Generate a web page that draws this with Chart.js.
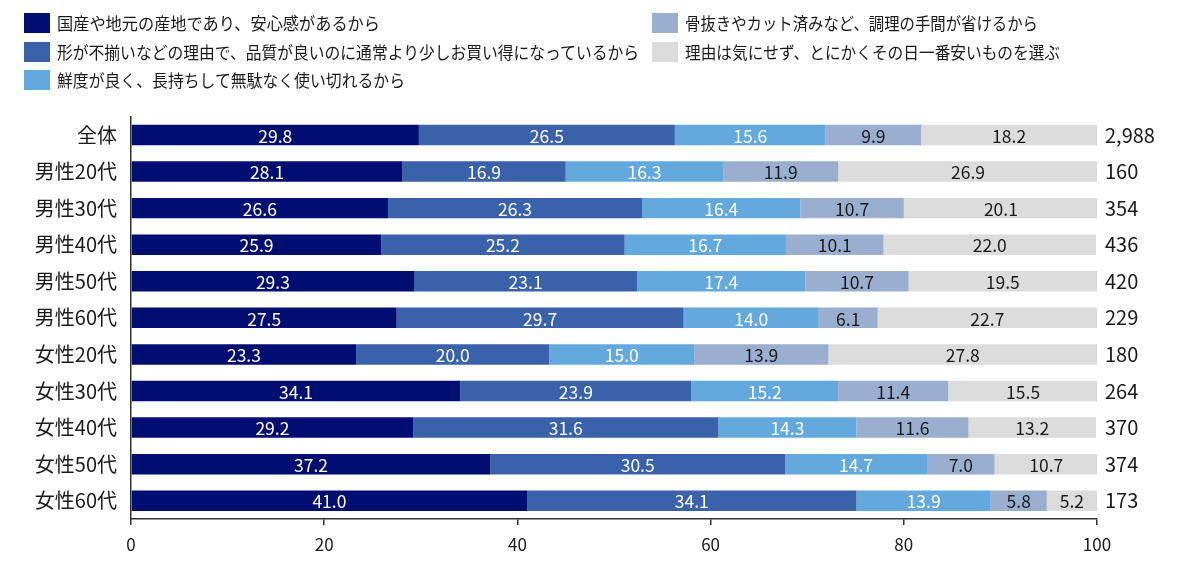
<!DOCTYPE html>
<html lang="ja">
<head>
<meta charset="utf-8">
<script src="https://cdn.jsdelivr.net/npm/chart.js@4/dist/chart.umd.min.js"></script>
<style>
  html, body { margin: 0; padding: 0; background: #fff; }
  body { width: 1200px; height: 565px; position: relative; overflow: hidden;
         font-family: "Noto Sans CJK JP", "Noto Sans", sans-serif; color: #1a1a1a; }
  #wrap { position: absolute; left: 0; top: 0; width: 1200px; height: 565px; }
  .lg { position: absolute; height: 20px; display: flex; align-items: center; white-space: nowrap; }
  .lg .box { width: 26px; height: 20px; flex: none; }
  .lg .txt { display: inline-block; font-size: 17px; line-height: 20px; margin-left: 7px; transform-origin: left center; }
</style>
</head>
<body>
<div id="wrap"><canvas id="chart" width="1200" height="565"></canvas></div>
<div id="legend"></div>
<script>
// --- categories / series ---
const categories = ["全体", "男性20代", "男性30代", "男性40代", "男性50代", "男性60代",
  "女性20代", "女性30代", "女性40代", "女性50代", "女性60代"];
const sampleSizes = ["2,988", "160", "354", "436", "420", "229", "180", "264", "370", "374", "173"];

const seriesNames = [
  "国産や地元の産地であり、安心感があるから",
  "形が不揃いなどの理由で、品質が良いのに通常より少しお買い得になっているから",
  "鮮度が良く、長持ちして無駄なく使い切れるから",
  "骨抜きやカット済みなど、調理の手間が省けるから",
  "理由は気にせず、とにかくその日一番安いものを選ぶ"
];
const localOrigin = [29.8, 28.1, 26.6, 25.9, 29.3, 27.5, 23.3, 34.1, 29.2, 37.2, 41.0];
const irregularShape = [26.5, 16.9, 26.3, 25.2, 23.1, 29.7, 20.0, 23.9, 31.6, 30.5, 34.1];
const freshness = [15.6, 16.3, 16.4, 16.7, 17.4, 14.0, 15.0, 15.2, 14.3, 14.7, 13.9];
const preCut = [9.9, 11.9, 10.7, 10.1, 10.7, 6.1, 13.9, 11.4, 11.6, 7.0, 5.8];
const cheapest = [18.2, 26.9, 20.1, 22.0, 19.5, 22.7, 27.8, 15.5, 13.2, 10.7, 5.2];
const xTicks = [0, 20, 40, 60, 80, 100];

const colors = ["#000e72", "#3a62aa", "#63a9dd", "#9aaecf", "#dcdcdc"];
const labelColors = ["#ffffff", "#ffffff", "#ffffff", "#1a1a1a", "#1a1a1a"];
const font = '"Noto Sans CJK JP", "Noto Sans", sans-serif';

// --- legend (HTML, two columns) ---
const legendPos = [
  { x: 24, y: 13, w: 323 },
  { x: 24, y: 42, w: 582 },
  { x: 24, y: 70, w: 348 },
  { x: 652, y: 13, w: 353 },
  { x: 652, y: 42, w: 375 }
];
const legend = document.getElementById("legend");
seriesNames.forEach((name, i) => {
  const p = legendPos[i];
  const item = document.createElement("div");
  item.className = "lg";
  item.style.left = p.x + "px";
  item.style.top = p.y + "px";
  const box = document.createElement("span");
  box.className = "box";
  box.style.background = colors[i];
  const txt = document.createElement("span");
  txt.className = "txt";
  txt.textContent = name;
  item.appendChild(box);
  item.appendChild(txt);
  legend.appendChild(item);
  const actual = txt.getBoundingClientRect().width;
  txt.style.transform = "scaleX(" + (p.w / actual) + ")";
});

// --- value labels inside segments ---
const segmentLabels = {
  id: "segmentLabels",
  afterDatasetsDraw(chart) {
    const ctx = chart.ctx;
    ctx.save();
    ctx.font = "17.5px " + font;
    ctx.textAlign = "center";
    ctx.textBaseline = "middle";
    chart.data.datasets.forEach((ds, di) => {
      const meta = chart.getDatasetMeta(di);
      ctx.fillStyle = labelColors[di];
      meta.data.forEach((bar, i) => {
        const cx = (bar.x + bar.base) / 2;
        ctx.fillText(ds.data[i].toFixed(1), cx, bar.y + 1);
      });
    });
    ctx.restore();
  }
};

const seriesData = [localOrigin, irregularShape, freshness, preCut, cheapest];

new Chart(document.getElementById("chart"), {
  type: "bar",
  data: {
    labels: categories,
    datasets: seriesData.map((d, i) => ({
      label: seriesNames[i],
      data: d,
      backgroundColor: colors[i],
      borderWidth: 0,
      categoryPercentage: 1,
      barPercentage: 0.56
    }))
  },
  options: {
    indexAxis: "y",
    responsive: false,
    animation: false,
    devicePixelRatio: 1,
    layout: { padding: { top: 116.7, left: 0, right: 0, bottom: 0 } },
    plugins: {
      legend: { display: false },
      tooltip: { enabled: false }
    },
    scales: {
      x: {
        stacked: true,
        min: 0,
        max: 100,
        afterBuildTicks: (s) => { s.ticks = xTicks.map(v => ({ value: v })); },
        afterFit: (s) => { s.height = 46; },
        grid: { drawOnChartArea: false, drawTicks: true, tickLength: 6, color: "#333", lineWidth: 1.5 },
        border: { display: true, color: "#333", width: 1.5 },
        ticks: { color: "#1a1a1a", font: { family: font, size: 17 }, padding: 9 }
      },
      y: {
        stacked: true,
        afterFit: (s) => { s.width = 131; },
        grid: { display: false, drawTicks: false },
        border: { display: true, color: "#333", width: 1.5 },
        ticks: { color: "#1a1a1a", font: { family: font, size: 20 }, padding: 14 }
      },
      y2: {
        type: "category",
        position: "right",
        labels: sampleSizes,
        offset: true,
        afterFit: (s) => { s.width = 103; },
        grid: { display: false, drawTicks: false },
        border: { display: false },
        ticks: { color: "#1a1a1a", font: { family: font, size: 20 }, padding: 8 }
      }
    }
  },
  plugins: [segmentLabels]
});
</script>
</body>
</html>
